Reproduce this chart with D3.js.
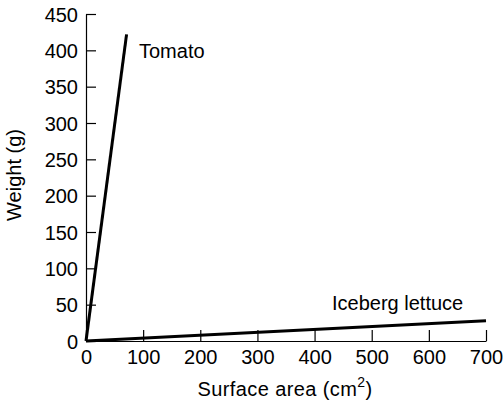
<!DOCTYPE html>
<html><head><meta charset="utf-8">
<script src="https://cdn.jsdelivr.net/npm/d3@7"></script>
<style>body{margin:0;background:#fff}svg{display:block}text{font-family:"Liberation Sans",Arial,sans-serif;}</style>
</head><body>
<svg id="c" width="504" height="404"></svg>
<script>
const xTicks = [0,100,200,300,400,500,600,700];
const yTicks = [0,50,100,150,200,250,300,350,400,450];
const tomatoArea = [0, 71];
const tomatoWeight = [0, 422];
const lettuceArea = [0, 700];
const lettuceWeight = [0, 28];
const seriesLabels = ["Tomato", "Iceberg lettuce"];

const svg = d3.select("#c");
const x = d3.scaleLinear().domain([0,700]).range([86,486]);
const y = d3.scaleLinear().domain([0,450]).range([341,14]);

const xAxis = svg.append("g").attr("transform","translate(0,341)")
  .call(d3.axisBottom(x).tickValues(xTicks).tickSizeInner(-11).tickSizeOuter(0).tickPadding(9));
const yAxis = svg.append("g").attr("transform","translate(86,0)")
  .call(d3.axisLeft(y).tickValues(yTicks).tickSizeInner(-10).tickSizeOuter(0).tickPadding(8));
[xAxis,yAxis].forEach(a=>{
  a.selectAll("path").attr("stroke","#000").attr("stroke-width",1.2);
  a.selectAll("line").attr("stroke","#000").attr("stroke-width",1.2);
  a.selectAll("text").attr("font-size",20).attr("fill","#000").style("font-family","Liberation Sans, Arial, sans-serif");
});
xAxis.selectAll("text").attr("dy","0.72em");
yAxis.selectAll("text").attr("dy","0.36em");

const line = d3.line().x(d=>x(d[0])).y(d=>y(d[1]));
svg.append("path").datum(tomatoArea.map((a,i)=>[a,tomatoWeight[i]]))
  .attr("d",line).attr("stroke","#000").attr("stroke-width",3).attr("fill","none");
svg.append("path").datum(lettuceArea.map((a,i)=>[a,lettuceWeight[i]]))
  .attr("d",line).attr("stroke","#000").attr("stroke-width",3).attr("fill","none");

svg.append("text").attr("x",139).attr("y",58).attr("font-size",20).text(seriesLabels[0]);
svg.append("text").attr("x",332).attr("y",310).attr("font-size",20).text(seriesLabels[1]);

const xl = svg.append("text").attr("x",285).attr("y",396).attr("text-anchor","middle").attr("font-size",20).attr("letter-spacing",0.4);
xl.append("tspan").text("Surface area (cm");
xl.append("tspan").attr("font-size",14).attr("dy",-9).text("2");
xl.append("tspan").attr("dy",9).text(")");

svg.append("text").attr("transform","translate(21,175) rotate(-90)").attr("text-anchor","middle").attr("font-size",20).text("Weight (g)");
</script>
</body></html>
